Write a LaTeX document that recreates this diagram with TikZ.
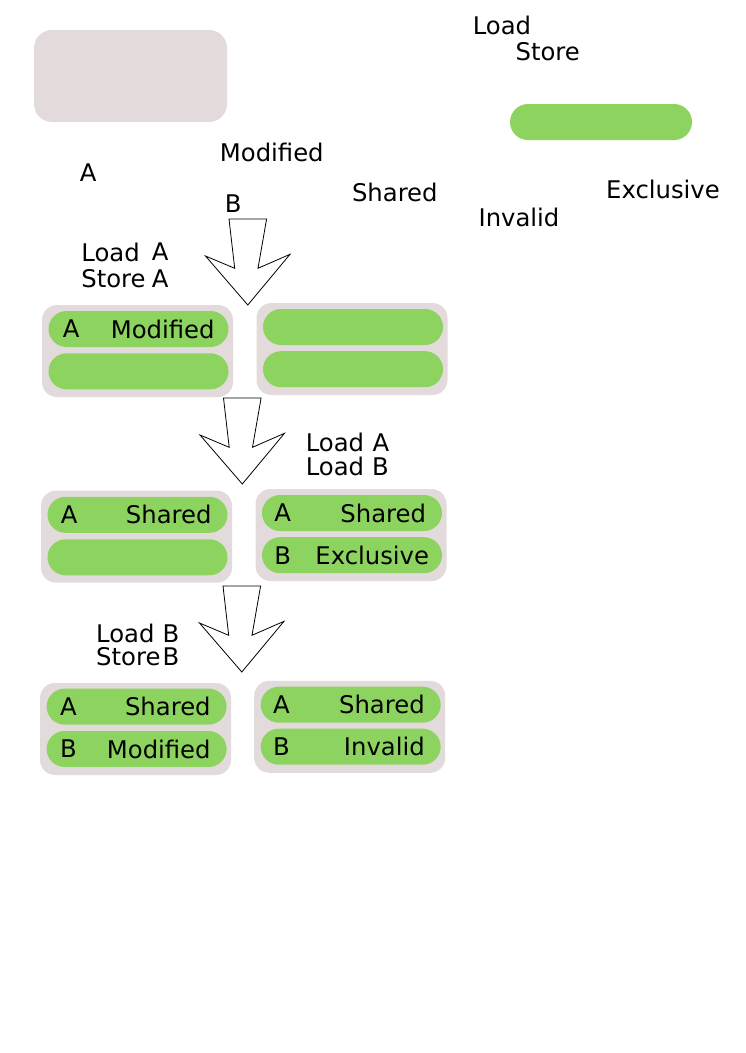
\documentclass[tikz,border=0pt]{standalone}
\usepackage{fontspec}
\setmainfont{DejaVu Sans}
\definecolor{cachegray}{HTML}{E3DBDB}
\definecolor{linegreen}{HTML}{8DD35F}
\begin{document}
\begin{tikzpicture}[x=1pt, y=-1pt,
    cachebox/.style={fill=cachegray, rounded corners=15pt, minimum width=191pt, minimum height=92pt, inner sep=0pt},
    linepill/.style={fill=linegreen, rounded corners=18pt, minimum width=180pt, minimum height=36pt, inner sep=0pt},
    txt/.style={inner sep=0pt, font=\fontsize{24.3}{29}\selectfont},
    blockarrow/.style={draw=black, fill=white, line width=0.8pt}]
        \useasboundingbox (0,0) rectangle (745,1053);

        % legend
        \node[cachebox, minimum width=193pt, rounded corners=18pt] (legendcache) at (130.5,76) {};
        \node[linepill, minimum width=182pt] (legendline) at (601,122) {};
        \node[txt, anchor=west] (loadop) at (472.6,25.5) {Load};
        \node[txt, anchor=west] (storeop) at (515.4,52) {Store};
        \node[txt] (modlabel) at (271.8,152.5) {Modified};
        \node[txt] (addrA) at (88.3,172.5) {A};
        \node[txt] (addrB) at (233.3,203.7) {B};
        \node[txt] (shlabel) at (394.8,192.4) {Shared};
        \node[txt] (invlabel) at (519,217.5) {Invalid};
        \node[txt] (exlabel) at (663,189) {Exclusive};

        % block arrows
        \foreach \ax/\ay in {229/219, 223.5/398, 223/586}
          \draw[blockarrow, shift={(\ax,\ay)}] (0,0) -- (37.6,0) -- (29,49.3) -- (61,35.3) -- (18.8,86) -- (-23.5,37) -- (5.7,49.3) -- cycle;

        % step 1
        \node[txt, anchor=west] (op1load) at (81.2,252) {Load};
        \node[txt, anchor=west] (op1store) at (81.2,278.5) {Store};
        \node[txt, anchor=west] (op1a) at (151.7,252) {A};
        \node[txt, anchor=west] (op1b) at (151.7,278.5) {A};

        \node[cachebox] (cpu1a) at (137.5,351) {};
        \node[linepill] (cpu1a1) at (138.5,329) {};
        \node[linepill] (cpu1a2) at (138.5,371.3) {};
        \node[cachebox] (cpu2a) at (352,349) {};
        \node[linepill] (cpu2a1) at (353,327) {};
        \node[linepill] (cpu2a2) at (353,369.2) {};
        \node[txt] (tag1a1) at ([xshift=23pt]cpu1a1.west) {A};
        \node[txt, anchor=east] (st1a1) at ([xshift=-14pt]cpu1a1.east) {Modified};

        % step 2
        \node[txt, anchor=west] (op2load) at (305.6,442.7) {Load};
        \node[txt, anchor=west] (op2loadb) at (305.6,466.2) {Load};
        \node[txt, anchor=west] (op2a) at (372.5,442.7) {A};
        \node[txt, anchor=west] (op2b) at (372,466.2) {B};

        \node[cachebox] (cpu1b) at (136.5,536.7) {};
        \node[linepill] (cpu1b1) at (137.5,514.8) {};
        \node[linepill] (cpu1b2) at (137.5,557.3) {};
        \node[cachebox] (cpu2b) at (351,535) {};
        \node[linepill] (cpu2b1) at (352,513) {};
        \node[linepill] (cpu2b2) at (352,555.2) {};
        \node[txt] (tag1b1) at ([xshift=22pt]cpu1b1.west) {A};
        \node[txt, anchor=east] (st1b1) at ([xshift=-16pt]cpu1b1.east) {Shared};
        \node[txt] (tag2b1) at ([xshift=21pt]cpu2b1.west) {A};
        \node[txt, anchor=east] (st2b1) at ([xshift=-16pt]cpu2b1.east) {Shared};
        \node[txt] (tag2b2) at ([xshift=21pt]cpu2b2.west) {B};
        \node[txt, anchor=east] (st2b2) at ([xshift=-13pt]cpu2b2.east) {Exclusive};

        % step 3
        \node[txt, anchor=west] (op3load) at (96,633.3) {Load};
        \node[txt, anchor=west] (op3store) at (96,656.7) {Store};
        \node[txt, anchor=west] (op3a) at (162.4,633.3) {B};
        \node[txt, anchor=west] (op3b) at (162.4,656.7) {B};

        \node[cachebox] (cpu1c) at (135.5,729) {};
        \node[linepill] (cpu1c1) at (136.6,706.6) {};
        \node[linepill] (cpu1c2) at (136.6,749) {};
        \node[cachebox] (cpu2c) at (349.7,726.8) {};
        \node[linepill] (cpu2c1) at (350.7,704.7) {};
        \node[linepill] (cpu2c2) at (350.7,746.7) {};
        \node[txt] (tag1c1) at ([xshift=22pt]cpu1c1.west) {A};
        \node[txt, anchor=east] (st1c1) at ([xshift=-16pt]cpu1c1.east) {Shared};
        \node[txt] (tag1c2) at ([xshift=22pt]cpu1c2.west) {B};
        \node[txt, anchor=east] (st1c2) at ([xshift=-16pt]cpu1c2.east) {Modified};
        \node[txt] (tag2c1) at ([xshift=21pt]cpu2c1.west) {A};
        \node[txt, anchor=east] (st2c1) at ([xshift=-16pt]cpu2c1.east) {Shared};
        \node[txt] (tag2c2) at ([xshift=21pt]cpu2c2.west) {B};
        \node[txt, anchor=east] (st2c2) at ([xshift=-16pt]cpu2c2.east) {Invalid};
      \end{tikzpicture}
\end{document}
